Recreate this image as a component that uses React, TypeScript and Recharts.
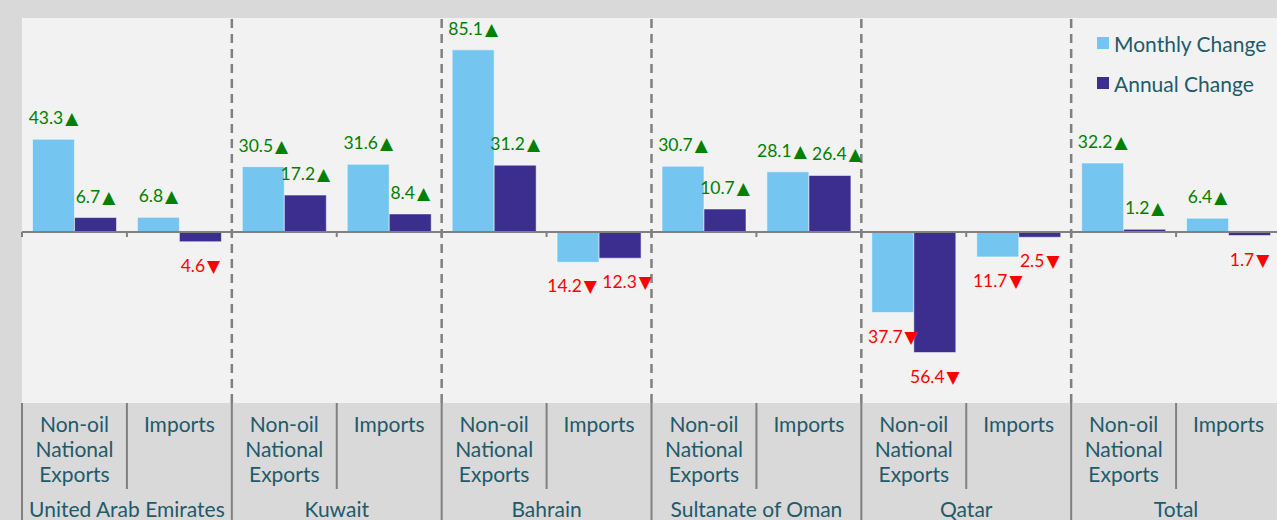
import { Bar, BarChart, CartesianGrid, LabelList, Legend, ReferenceLine, XAxis, YAxis } from 'recharts';

// Intra-GCC trade, monthly vs annual change (%)
const countries = ['United Arab Emirates', 'Kuwait', 'Bahrain', 'Sultanate of Oman', 'Qatar', 'Total'];
const flows = ['Non-oil National Exports', 'Imports'];
const seriesNames = ['Monthly Change', 'Annual Change'];
const monthlyChange = [43.3, 6.8, 30.5, 31.6, 85.1, -14.2, 30.7, 28.1, -37.7, -11.7, 32.2, 6.4];
const annualChange = [6.7, -4.6, 17.2, 8.4, 31.2, -12.3, 10.7, 26.4, -56.4, -2.5, 1.2, -1.7];
const yDomain: [number, number] = [-80, 100];

const data = monthlyChange.map((m, i) => ({
  id: `${countries[Math.floor(i / 2)]}|${flows[i % 2]}`,
  country: countries[Math.floor(i / 2)],
  flow: flows[i % 2],
  monthly: m,
  annual: annualChange[i],
}));

const CHART_W = 1281;
const CHART_H = 520;
const MARGIN = { top: 18, right: 0, bottom: 0, left: 22 };
const AXIS_H = 117;
const CAT_W = (CHART_W - MARGIN.left - MARGIN.right) / data.length;
const PX_PER_UNIT = (CHART_H - MARGIN.top - AXIS_H) / (yDomain[1] - yDomain[0]);

const FONT = 'Lato, "Noto Sans", sans-serif';
const TEXT = '#215a6b';
const RULE = '#808080';
const LIGHT = '#74c6f0';
const DARK = '#3b2e8e';

// Labels of the two bars in one category collide when both point the same
// way and end up at nearly the same height; nudge them apart sideways.
function labelNudge(index: number, key: 'monthly' | 'annual') {
  const d = data[index];
  if (!d) return 0;
  const sameSign = Math.sign(d.monthly) === Math.sign(d.annual);
  const close = Math.abs(d.monthly - d.annual) * PX_PER_UNIT < 14;
  if (!sameSign || !close) return 0;
  return key === 'monthly' ? -6 : 7;
}

function makeLabel(key: 'monthly' | 'annual') {
  return (props: any) => {
    const { x, y, width, height, value, index } = props;
    const v = Number(value);
    const cx = Number(x) + Number(width) / 2 + labelNudge(Number(index), key);
    const top = Math.min(Number(y), Number(y) + Number(height));
    const bottom = Math.max(Number(y), Number(y) + Number(height));
    const up = v >= 0;
    return (
      <text
        x={cx}
        y={up ? top - 15 : bottom + 30}
        textAnchor="middle"
        fill={up ? '#008000' : '#ff0000'}
        fontSize={17.5}
        fontFamily={FONT}
      >
        {Math.abs(v).toFixed(1)}
        <tspan dx={2} fontFamily='"DejaVu Sans", sans-serif' fontSize={17}>
          {up ? '▲' : '▼'}
        </tspan>
      </text>
    );
  };
}

function CategoryTick(props: any) {
  const { x, y, payload } = props;
  const d = data.find((r) => r.id === payload.value);
  if (!d) return null;
  const groupStart = d.flow === flows[0];
  const lines = groupStart ? ['Non-oil', 'National', 'Exports'] : ['Imports'];
  const left = x - CAT_W / 2;
  return (
    <g>
      <line x1={left} x2={left} y1={y} y2={groupStart ? y + AXIS_H : y + 86} stroke={RULE} strokeWidth={2} />
      {lines.map((t, i) => (
        <text key={t} x={x} y={y + 29 + i * 25} textAnchor="middle" fill={TEXT} fontSize={21} fontFamily={FONT}>
          {t}
        </text>
      ))}
      {groupStart && (
        <text x={x + CAT_W / 2} y={y + 114} textAnchor="middle" fill={TEXT} fontSize={21} fontFamily={FONT}>
          {d.country}
        </text>
      )}
    </g>
  );
}

function renderLegend(props: any) {
  const items = [...(props.payload ?? [])].sort(
    (a: any, b: any) => seriesNames.indexOf(a.value) - seriesNames.indexOf(b.value),
  );
  return (
    <div style={{ fontFamily: FONT }}>
      {items.map((it: any) => (
        <div key={it.value} style={{ display: 'flex', alignItems: 'center', height: 40 }}>
          <span style={{ width: 12, height: 12, background: it.color, marginRight: 5, flexShrink: 0 }} />
          <span style={{ fontSize: 21, color: TEXT, whiteSpace: 'nowrap' }}>{it.value}</span>
        </div>
      ))}
    </div>
  );
}

export default function App() {
  const groupStarts = data.filter((d, i) => i > 0 && d.flow === flows[0]);
  return (
    <div
      style={{
        position: 'absolute',
        left: 0,
        top: 0,
        width: 1277,
        height: 520,
        overflow: 'hidden',
        background: '#d9d9d9',
      }}
    >
      <BarChart
        width={CHART_W}
        height={CHART_H}
        data={data}
        margin={MARGIN}
        barCategoryGap="10%"
        barGap={0}
      >
        <CartesianGrid fill="#f2f2f2" horizontal={false} vertical={false} stroke="none" />
        <XAxis
          dataKey="id"
          height={AXIS_H}
          interval={0}
          axisLine={false}
          tickLine={false}
          tickSize={0}
          tickMargin={0}
          tick={<CategoryTick />}
        />
        <YAxis hide domain={yDomain} allowDataOverflow />
        <Legend
          layout="vertical"
          align="center"
          verticalAlign="middle"
          wrapperStyle={{ top: 23, left: 1097, width: 180 }}
          content={renderLegend}
        />
        {groupStarts.map((d) => (
          <ReferenceLine
            key={`sep-${d.id}`}
            x={d.id}
            position="start"
            stroke={RULE}
            strokeWidth={2.5}
            strokeDasharray="9 6"
          />
        ))}
        <Bar
          dataKey="monthly"
          name={seriesNames[0]}
          fill={LIGHT}
          stroke="#ffffff"
          strokeOpacity={0.5}
          isAnimationActive={false}
        >
          <LabelList dataKey="monthly" content={makeLabel('monthly')} />
        </Bar>
        <Bar
          dataKey="annual"
          name={seriesNames[1]}
          fill={DARK}
          stroke="#ffffff"
          strokeOpacity={0.5}
          isAnimationActive={false}
        >
          <LabelList dataKey="annual" content={makeLabel('annual')} />
        </Bar>
        <ReferenceLine y={0} stroke={RULE} strokeWidth={2} />
        {data.map((d) => (
          <ReferenceLine
            key={`tick-${d.id}`}
            segment={[
              { x: d.id, y: 0 },
              { x: d.id, y: -2.4 },
            ]}
            position="start"
            stroke={RULE}
            strokeWidth={2}
          />
        ))}
      </BarChart>
    </div>
  );
}
